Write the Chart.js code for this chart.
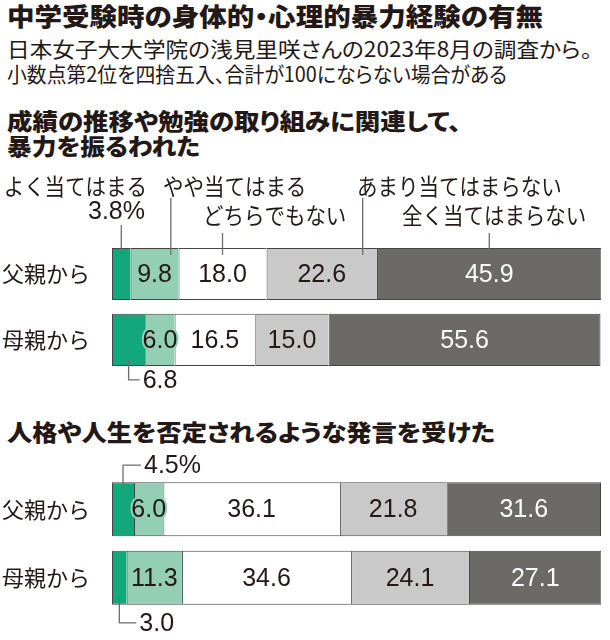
<!DOCTYPE html>
<html>
<head>
<meta charset="utf-8">
<script src="https://cdn.jsdelivr.net/npm/chart.js@4.4.1/dist/chart.umd.min.js"></script>
<style>
  body { margin: 0; background: #fff; width: 610px; height: 640px; position: relative; overflow: hidden;
         font-family: "Noto Sans CJK JP", sans-serif; color: #231815; }
  .t { position: absolute; left: 7px; white-space: nowrap; line-height: 1; transform-origin: left top;
       font-feature-settings: "palt"; }
  .b { font-weight: 900; }
  canvas { position: absolute; left: 0; }
</style>
</head>
<body>
<div class="t b" data-w="536" style="top:3px;font-size:25px">中学受験時の身体的・心理的暴力経験の有無</div>
<div class="t" data-w="585" style="top:38px;font-size:21px">日本女子大大学院の浅見里咲さんの2023年8月の調査から。</div>
<div class="t" data-w="500" style="top:63px;font-size:21px">小数点第2位を四捨五入、合計が100にならない場合がある</div>
<div class="t b" data-w="454" style="top:109px;font-size:23px">成績の推移や勉強の取り組みに関連して、</div>
<div class="t b" data-w="193" style="top:134px;font-size:23px">暴力を振るわれた</div>
<div class="t b" data-w="488" style="top:420px;font-size:23px">人格や人生を否定されるような発言を受けた</div>

<canvas id="chart1" width="610" height="240" style="top:160px"></canvas>
<canvas id="chart2" width="610" height="240" style="top:400px"></canvas>

<script>
const categories = ['父親から', '母親から']
const answers = ['よく当てはまる', 'やや当てはまる', 'どちらでもない', 'あまり当てはまらない', '全く当てはまらない']

// 成績の推移や勉強の取り組みに関連して、暴力を振るわれた
const violenceFather = [3.8, 9.8, 18.0, 22.6, 45.9]
const violenceMother = [6.8, 6.0, 16.5, 15.0, 55.6]

// 人格や人生を否定されるような発言を受けた
const remarkFather = [4.5, 6.0, 36.1, 21.8, 31.6]
const remarkMother = [3.0, 11.3, 34.6, 24.1, 27.1]

const fillColors = ['#13a87b', '#92cfb4', '#ffffff', '#c9c9c9', '#6b6a66']
const textColors = ['#231815', '#231815', '#231815', '#231815', '#ffffff']
const edgeColor = '#45443f'
const numFont = '25px "Liberation Sans", Arial, sans-serif'
const jpFont = '"Noto Sans CJK JP", sans-serif'

// stretch the headings to the widths they have in the print graphic
document.querySelectorAll('[data-w]').forEach(el => {
  let w = el.getBoundingClientRect().width
  el.style.transform = 'scaleX(' + (el.dataset.w / w) + ')'
})

function buildData(father, mother) {
  return {
    labels: categories,
    datasets: answers.map((name, k) => ({
      label: name,
      data: [father[k], mother[k]],
      backgroundColor: fillColors[k],
      borderColor: edgeColor,
      borderWidth: k == answers.length - 1 ? 1 : { top: 1, bottom: 1, left: 1, right: 0 },
      borderSkipped: false,
      categoryPercentage: 1,
      barPercentage: 0.79
    }))
  }
}

function seg(chart, ds, idx) {
  let el = chart.getDatasetMeta(ds).data[idx]
  let left = Math.min(el.x, el.base), right = Math.max(el.x, el.base)
  return { left, right, cx: (left + right) / 2, top: el.y - el.height / 2, bottom: el.y + el.height / 2, cy: el.y }
}

function line(ctx, pts) {
  ctx.beginPath()
  ctx.moveTo(pts[0][0], pts[0][1])
  for (let i = 1; i < pts.length; i++) ctx.lineTo(pts[i][0], pts[i][1])
  ctx.stroke()
}

// numbers inside the segments, and callouts for the thin ones
const valueLabels = {
  id: 'valueLabels',
  afterDatasetsDraw(chart, args, opts) {
    let ctx = chart.ctx
    ctx.save()
    ctx.font = numFont
    ctx.textBaseline = 'middle'
    ctx.lineJoin = 'round'
    chart.data.datasets.forEach((d, ds) => {
      d.data.forEach((v, idx) => {
        let s = seg(chart, ds, idx)
        let call = (opts.callouts || []).find(c => c.ds == ds && c.idx == idx)
        let txt = v.toFixed(1)
        if (call) {
          ctx.strokeStyle = '#6e6e6e'
          ctx.lineWidth = 1.3
          ctx.fillStyle = textColors[0]
          let label = txt + (call.suffix || '')
          if (call.dir == 'up' || call.dir == 'down') {
            let y = call.dir == 'up' ? s.top - call.gap : s.bottom + call.gap
            let y0 = call.dir == 'up' ? s.top + 6 : s.bottom - 6
            line(ctx, [[s.cx, y0], [s.cx, y], [s.cx + call.len, y]])
            ctx.textAlign = 'left'
            ctx.fillText(label, s.cx + call.len + 3, y + 1)
          } else {
            line(ctx, [[s.cx, call.from], [s.cx, s.top + 7]])
            ctx.textAlign = 'right'
            ctx.fillText(label, call.x, call.y)
          }
          return
        }
        ctx.textAlign = 'center'
        ctx.lineWidth = 4
        ctx.strokeStyle = fillColors[ds]
        ctx.strokeText(txt, s.cx, s.cy + 1)
        ctx.fillStyle = textColors[ds]
        ctx.fillText(txt, s.cx, s.cy + 1)
      })
    })
    ctx.restore()
  }
}

// answer names above the first bar, with leader lines
const answerNames = {
  id: 'answerNames',
  afterDatasetsDraw(chart, args, opts) {
    if (!opts.items) return
    let ctx = chart.ctx
    ctx.save()
    ctx.font = '22.5px ' + jpFont
    ctx.textBaseline = 'middle'
    ctx.fillStyle = '#231815'
    ctx.strokeStyle = '#6e6e6e'
    ctx.lineWidth = 1.3
    opts.items.forEach((it, k) => {
      ctx.save()
      ctx.translate(it.x, it.y)
      ctx.scale(0.91, 1)
      ctx.textAlign = it.align
      ctx.fillText(answers[k], 0, 0)
      ctx.restore()
      if (it.from != null) {
        let s = seg(chart, k, 0)
        let x = s.left + (s.right - s.left) * it.frac
        line(ctx, [[x, it.from], [x, s.top + 7]])
      }
    })
    ctx.restore()
  }
}

function makeOptions(padTop, padBottom, plugins) {
  return {
    indexAxis: 'y',
    responsive: false,
    animation: false,
    devicePixelRatio: 1,
    layout: { padding: { top: padTop, bottom: padBottom, left: 0, right: 9 } },
    scales: {
      x: { stacked: true, min: 0, max: 100, display: false },
      y: {
        stacked: true,
        grid: { display: false },
        border: { display: false },
        afterFit(scale) { scale.width = 112 },
        ticks: { padding: 14, color: '#231815', font: { family: jpFont, size: 22 } }
      }
    },
    plugins: Object.assign({ legend: { display: false }, tooltip: { enabled: false } }, plugins)
  }
}

new Chart(document.getElementById('chart1'), {
  type: 'bar',
  data: buildData(violenceFather, violenceMother),
  options: makeOptions(81, 21, {
    answerNames: {
      items: [
        { x: 147, y: 26, align: 'right' },
        { x: 163, y: 26, align: 'left', from: 38, frac: 0.84 },
        { x: 203, y: 55, align: 'left', from: 73, frac: 0.5 },
        { x: 357, y: 26, align: 'left', from: 38, frac: 0.87 },
        { x: 402, y: 55, align: 'left', from: 73, frac: 0.5 }
      ]
    },
    valueLabels: {
      callouts: [
        { ds: 0, idx: 0, dir: 'above', x: 145, y: 52, from: 65, suffix: '%' },
        { ds: 0, idx: 1, dir: 'down', gap: 14, len: 11 }
      ]
    }
  }),
  plugins: [answerNames, valueLabels]
})

new Chart(document.getElementById('chart2'), {
  type: 'bar',
  data: buildData(remarkFather, remarkMother),
  options: makeOptions(75, 28, {
    answerNames: {},
    valueLabels: {
      callouts: [
        { ds: 0, idx: 0, dir: 'up', gap: 17, len: 18, suffix: '%' },
        { ds: 0, idx: 1, dir: 'down', gap: 18, len: 17 }
      ]
    }
  }),
  plugins: [answerNames, valueLabels]
})
</script>
</body>
</html>
